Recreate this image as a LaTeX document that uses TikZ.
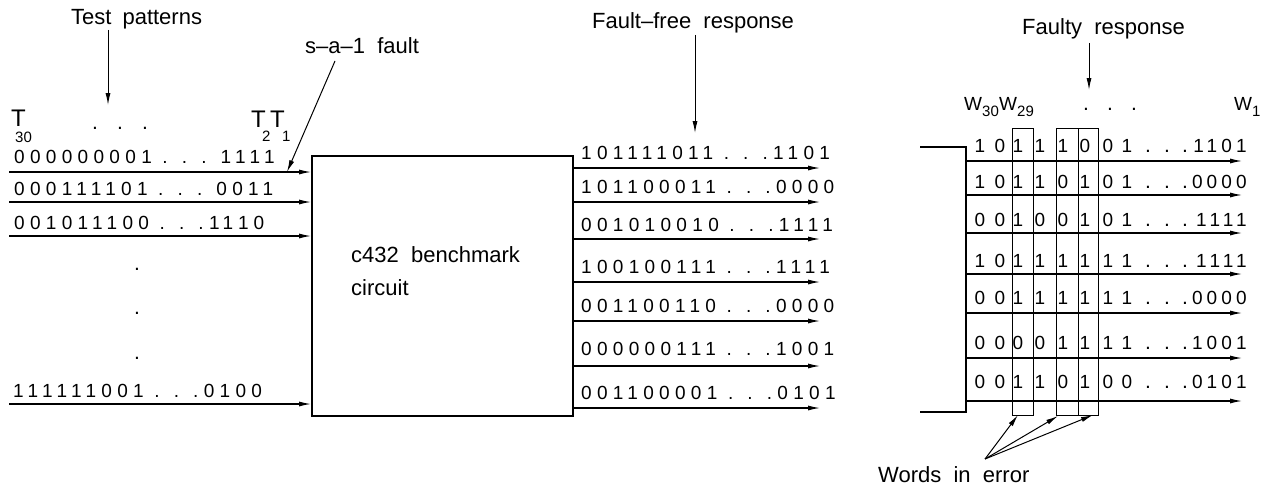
\documentclass[tikz,border=0pt]{standalone}
\usepackage{fontspec}
\setmainfont{Liberation Sans}
\newfontfamily\digfont[LetterSpace=28]{Liberation Sans}
\newfontfamily\tailfont[LetterSpace=22]{Liberation Sans}
\usetikzlibrary{arrows.meta}
\begin{document}
\begin{tikzpicture}[x=1pt,y=-1pt,
  lbl/.style={font=\fontsize{22}{26}\selectfont, inner sep=0pt, anchor=base west},
  bits/.style={font=\fontsize{19}{21}\selectfont\digfont, inner sep=0pt, anchor=base west},
  tailbits/.style={font=\fontsize{19}{21}\selectfont\tailfont, inner sep=0pt, anchor=base east},
  bit/.style={font=\fontsize{19}{21}\selectfont, inner sep=0pt, anchor=base},
  dotc/.style={font=\fontsize{21}{25}\selectfont, inner sep=0pt, anchor=base},
  big/.style={font=\fontsize{24}{26}\selectfont, inner sep=0pt, anchor=base west},
  bigw/.style={font=\fontsize{19}{24}\selectfont, inner sep=0pt, anchor=base west},
  sub/.style={font=\fontsize{15}{17}\selectfont, inner sep=0pt, anchor=base west},
  sig/.style={line width=1.1pt, -{Latex[length=12pt,width=5pt]}},
  ptr/.style={line width=1pt, -{Latex[length=12pt,width=5pt]}},
  colbox/.style={draw, line width=1.1pt, inner sep=0pt, anchor=north west, minimum height=287pt},
  lead/.style={line width=2pt}
]
\useasboundingbox (0,0) rectangle (1265,487);

% ---------- labels ----------
\node[lbl] (tp) at (71,25) {Test\hspace{11pt}patterns};
\coordinate (tpa) at (108,105);
\draw[ptr] (tp.south -| tpa) -- (tpa);

\node[lbl] (saf) at (305,54) {s--a--1\ \ fault};
\coordinate (safs) at (335,61);
\coordinate (safp) at (287,172);
\draw[ptr] (safs) -- (safp);

\node[lbl] (ffr) at (592,29) {Fault--free\ \ response};
\coordinate (ffa) at (695,133);
\draw[ptr] (ffa |- 0,35) -- (ffa);

\node[lbl] (fr) at (1022,35) {Faulty\ \ response};
\coordinate (fra) at (1089,90);
\draw[ptr] (fra |- 0,43) -- (fra);

% ---------- T labels ----------
\node[big] (t30) at (11,126) {T};
\node[sub] (s30) at (15,142) {30};
\node[big] (t2) at (251,127) {T};
\node[sub] (s2) at (262,141) {2};
\node[big] (t1) at (270,127) {T};
\node[sub] (s1) at (282,141) {1};
\node[dotc] (d1) at (95,129) {.};
\node[dotc] (d2) at (120,129) {.};
\node[dotc] (d3) at (145,129) {.};

% ---------- circuit ----------
\node[draw, line width=2.4pt, minimum width=261pt, minimum height=260pt, inner sep=0pt, anchor=north west] (circuit) at (311,155) {};
\node[lbl] (c1) at (351,262) {c432\ \ benchmark};
\node[lbl] (c2) at (351,295) {circuit};

% ---------- inputs ----------
\node[bits] (l1) at (14,163) {000000001 . . . 1111};
\node[bits] (l2) at (14,195) {000111101 . . . 0011};
\node[bits] (l3) at (14,229) {001011100 . . .1\kern3pt 1\kern5pt 1\kern5pt 0};
\node[bits] (l4) at (13,397) {111111001 . . .0100};
\foreach \y/\n in {172/i1, 202/i2, 236/i3, 404/i4}{
  \coordinate (\n) at (9,\y);
  \draw[sig] (\n) -- (\n -| circuit.west);
}
\node[dotc] (v1) at (137,270) {.};
\node[dotc] (v2) at (137,314) {.};
\node[dotc] (v3) at (137,359) {.};

% ---------- fault-free outputs ----------
\foreach \yt/\ya/\s/\n in {159/168/101111011 . . .1101/o1, 193/202/101100011 . . .0000/o2, 231/239/001010010 . . .1111/o3,
    273/282/100100111 . . .1111/o4, 312/321/001100110 . . .0000/o5, 355/366/000000111 . . .1001/o6, 399/408/001100001 . . .0101/o7}{
  \node[bits] (\n t) at (581,\yt) {\s};
  \coordinate (\n) at (820,\ya);
  \draw[sig] (\n -| circuit.east) -- (\n);
}

% ---------- faulty response ----------
\node[bigw] (wa30) at (964,110) {W};
\node[sub] (sw30) at (982,116) {30};
\node[bigw] (wa29) at (999,110) {W};
\node[sub] (sw29) at (1017,116) {29};
\node[bigw] (wa1) at (1234,110) {W};
\node[sub] (sw1) at (1252,116) {1};
\node[dotc] (e1) at (1086,110) {.};
\node[dotc] (e2) at (1110,110) {.};
\node[dotc] (e3) at (1134,110) {.};

\coordinate (lt) at (966,147);
\coordinate (lb) at (966,412);
\draw[lead] (920,147) -- (lt) -- (lb) -- (920,412);

\node[colbox, minimum width=21pt] (wa) at (1012,128) {};
\node[colbox, minimum width=22pt] (wb) at (1056,128) {};
\node[colbox, minimum width=20pt] (wc) at (1078,128) {};

\foreach \yt/\ya/\bits/\tl/\n in {
   152/161/{1,0,1,1,1,0,0,1}/1101/f1,
   188/195/{1,0,1,1,0,1,0,1}/0000/f2,
   226/233/{0,0,1,0,0,1,0,1}/1111/f3,
   267/274/{1,0,1,1,1,1,1,1}/1111/f4,
   304/313/{0,0,1,1,1,1,1,1}/0000/f5,
   349/358/{0,0,0,0,1,1,1,1}/1001/f6,
   388/401/{0,0,1,1,0,1,0,0}/0101/f7}{
  \foreach \b [count=\k] in \bits {
    \pgfmathsetmacro{\cx}{{980,1000,1018,1040,1063,1085,1108,1127}[\k-1]}
    \node[bit] at (\cx,\yt) {\b};
  }
  \foreach \dx in {1148,1167,1185}{
    \node[dotc] at (\dx,\yt) {.};
  }
  \node[tailbits] (\n t) at (1247,\yt) {\tl};
  \coordinate (\n) at (1242,\ya);
  \draw[sig] (\n -| lt) -- (\n);
}

% ---------- words in error ----------
\node[lbl] (wie) at (878,482) {Words\ \ in\ \ error};
\coordinate (wt) at (985,459);
\coordinate (h1) at (1018,415);
\coordinate (h2) at (1058,416);
\coordinate (h3) at (1093,415);
\draw[ptr] (wt) -- (h1);
\draw[ptr] (wt) -- (h2);
\draw[ptr] (wt) -- (h3);
\end{tikzpicture}
\end{document}
